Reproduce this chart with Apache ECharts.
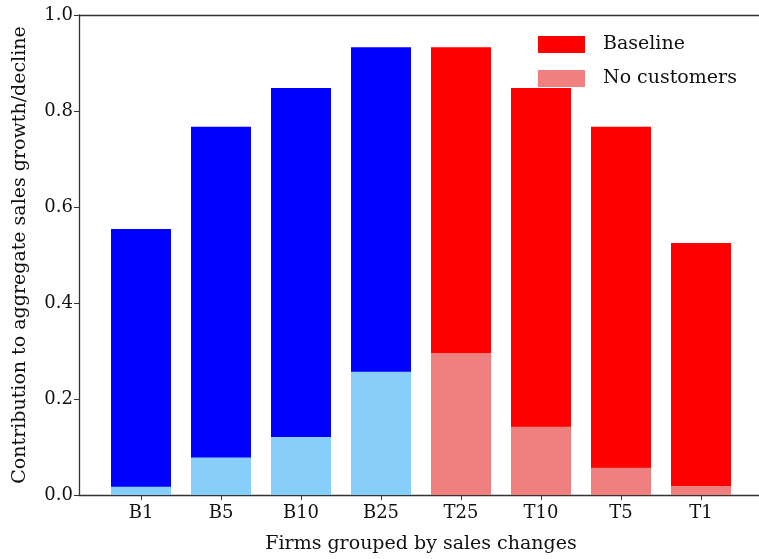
<!DOCTYPE html>
<html>
<head>
<meta charset="utf-8">
<script src="https://cdn.jsdelivr.net/npm/echarts@6/dist/echarts.min.js"></script>
<style>html,body{margin:0;padding:0;background:#fff}#c{width:759px;height:559px}</style>
</head>
<body>
<div id="c"></div>
<script>
var categories = ['B1', 'B5', 'B10', 'B25', 'T25', 'T10', 'T5', 'T1'];
var baseline = [0.554, 0.767, 0.848, 0.933, 0.933, 0.848, 0.767, 0.525];
var noCustomers = [0.017, 0.078, 0.121, 0.257, 0.296, 0.142, 0.057, 0.019];
var yTicks = [0, 0.2, 0.4, 0.6, 0.8, 1.0];

var FONT = 'DejaVu Serif';
var fullColor = function (i) { return categories[i].charAt(0) === 'B' ? '#0000ff' : '#ff0000'; };
var lightColor = function (i) { return categories[i].charAt(0) === 'B' ? '#87cefa' : '#f08080'; };

var chart = echarts.init(document.getElementById('c'), null, {renderer: 'canvas'});
chart.setOption({
  animation: false,
  backgroundColor: '#ffffff',
  textStyle: {fontFamily: FONT},
  grid: [
    {left: 101, right: 18, top: 15, bottom: 64},
    {left: 79, right: -6, top: 15, bottom: 64}
  ],
  legend: {
    orient: 'vertical', left: 533, top: 30, itemWidth: 47, itemHeight: 17, itemGap: 15,
    icon: 'rect', selectedMode: false,
    textStyle: {fontFamily: FONT, fontSize: 19, lineHeight: 17, color: '#111', padding: [2, 0, 0, 13]},
    data: [
      {name: 'Baseline', itemStyle: {color: '#ff0000'}},
      {name: 'No customers', itemStyle: {color: '#f08080'}}
    ]
  },
  xAxis: [
    {
      type: 'category', gridIndex: 0, data: categories,
      axisLine: {show: false},
      axisTick: {show: true, alignWithLabel: true, length: 5, lineStyle: {color: '#333'}},
      axisLabel: {fontFamily: FONT, fontSize: 18, color: '#111', margin: 9},
      name: 'Firms grouped by sales changes', nameLocation: 'middle', nameGap: 40,
      nameTextStyle: {fontFamily: FONT, fontSize: 19, color: '#111'}
    },
    {
      type: 'value', gridIndex: 1, min: 0, max: 1, position: 'bottom',
      axisLine: {show: true, onZero: false, lineStyle: {color: '#333', width: 1.3}},
      axisTick: {show: false}, axisLabel: {show: false}, splitLine: {show: false}
    },
    {
      type: 'value', gridIndex: 1, min: 0, max: 1, position: 'top',
      axisLine: {show: true, onZero: false, lineStyle: {color: '#333', width: 1.3}},
      axisTick: {show: false}, axisLabel: {show: false}, splitLine: {show: false}
    }
  ],
  yAxis: [
    {type: 'value', gridIndex: 0, min: 0, max: 1, show: false},
    {
      type: 'value', gridIndex: 1, min: 0, max: 1, interval: 0.2,
      axisLine: {show: true, lineStyle: {color: '#333', width: 1.3}},
      axisTick: {show: true, length: 5, lineStyle: {color: '#333'}},
      axisLabel: {fontFamily: FONT, fontSize: 18, color: '#111', margin: 6,
        formatter: function (v) { return v.toFixed(1); }},
      splitLine: {show: false},
      name: 'Contribution to aggregate sales growth/decline', nameLocation: 'middle', nameGap: 49,
      nameTextStyle: {fontFamily: FONT, fontSize: 19, color: '#111'}
    }
  ],
  series: [
    {
      name: 'Baseline', type: 'bar', xAxisIndex: 0, yAxisIndex: 0, barWidth: 60,
      itemStyle: {color: '#ff0000'},
      data: baseline.map(function (v, i) { return {value: v, itemStyle: {color: fullColor(i)}}; })
    },
    {
      name: 'No customers', type: 'bar', xAxisIndex: 0, yAxisIndex: 0, barWidth: 60, barGap: '-100%',
      itemStyle: {color: '#f08080'},
      data: noCustomers.map(function (v, i) { return {value: v, itemStyle: {color: lightColor(i)}}; })
    }
  ]
});
</script>
</body>
</html>
